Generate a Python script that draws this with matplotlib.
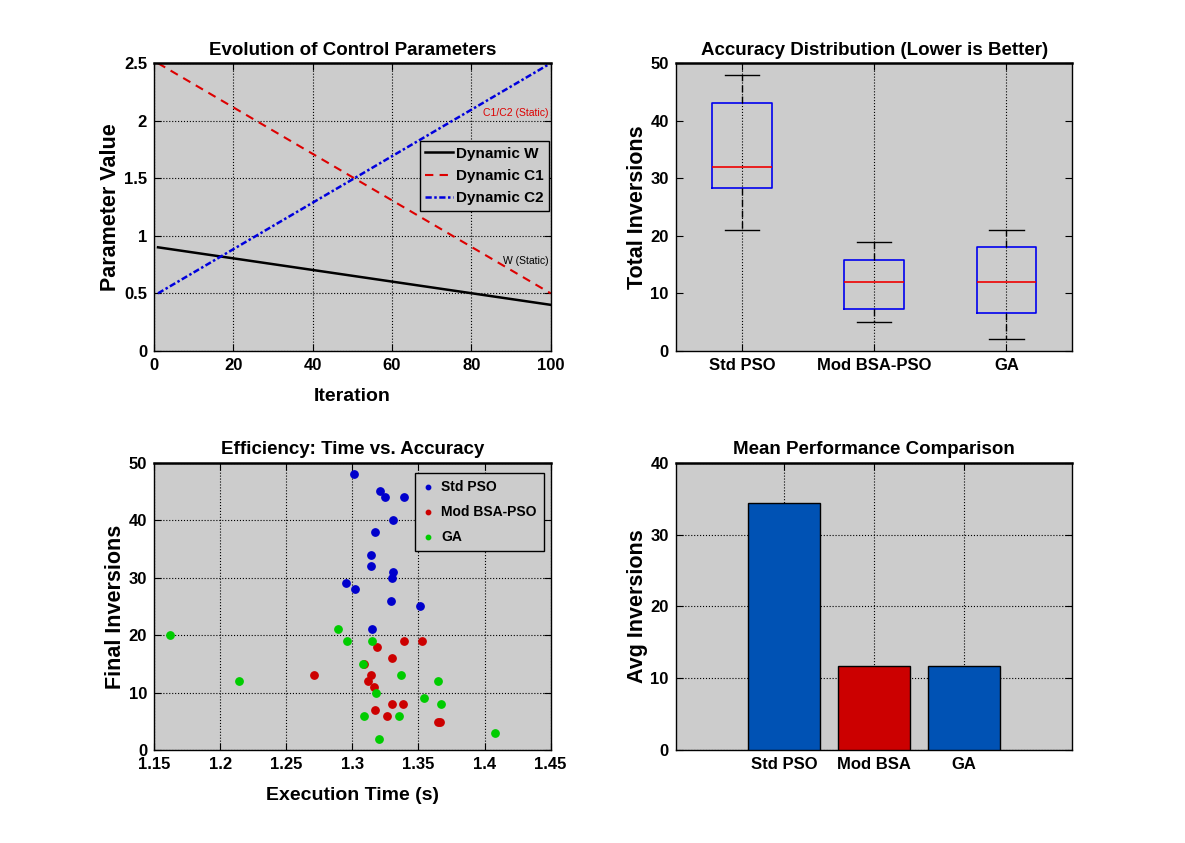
import numpy as np
import matplotlib
matplotlib.use("Agg")
from matplotlib import pyplot as plt
from matplotlib.ticker import FuncFormatter

NARROW = ["Liberation Sans Narrow", "Liberation Sans", "DejaVu Sans"]
WIDE = ["Liberation Sans", "DejaVu Sans"]
plt.rcParams['font.family'] = NARROW
plt.rcParams['font.weight'] = 'bold'

AXES_BG = "#cccccc"

# control parameter schedule
iterations = np.arange(1, 101)
W_START, W_END = 0.9, 0.4
C1_START, C1_END = 2.5, 0.5
C2_START, C2_END = 0.5, 2.5

# per-run results (15 runs each)
methods = ["Std PSO", "Mod BSA-PSO", "GA"]
bar_labels = ["Std PSO", "Mod BSA", "GA"]

std_time = [1.301, 1.321, 1.325, 1.339, 1.331, 1.317, 1.314, 1.314,
            1.331, 1.330, 1.295, 1.302, 1.329, 1.351, 1.315]
std_inv = [48, 45, 44, 44, 40, 38, 34, 32, 31, 30, 29, 28, 26, 25, 21]

mod_time = [1.339, 1.353, 1.319, 1.330, 1.309, 1.271, 1.314, 1.312,
            1.316, 1.330, 1.338, 1.317, 1.326, 1.366, 1.365]
mod_inv = [19, 19, 18, 16, 15, 13, 13, 12, 11, 8, 8, 7, 6, 5, 5]

ga_time = [1.162, 1.289, 1.296, 1.315, 1.308, 1.337, 1.214, 1.365,
           1.318, 1.354, 1.367, 1.309, 1.335, 1.408, 1.320]
ga_inv = [20, 21, 19, 19, 15, 13, 12, 12, 10, 9, 8, 6, 6, 3, 2]


def styleAxes(ax):
    ax.set_facecolor(AXES_BG)
    ax.tick_params(direction='in', top=True, right=True, labelsize=12, length=5, pad=5)
    for sp in ax.spines.values():
        sp.set_linewidth(1.0)
    ax.spines['top'].set_linewidth(1.8)


def setLabels(ax, title, ylabel, xlabel=None):
    ax.set_title(title, fontsize=13.5, fontweight='bold', pad=6)
    ax.set_ylabel(ylabel, fontsize=15.5, fontweight='bold', family=WIDE, labelpad=2)
    if xlabel:
        ax.set_xlabel(xlabel, fontsize=14, fontweight='bold', labelpad=11)


def boxStats(values):
    v = np.array(values, dtype=float)
    q1, med, q3 = np.percentile(v, [25, 50, 75], method='hazen')
    iqr = q3 - q1
    lo = v[v >= q1 - 1.5 * iqr].min()
    hi = v[v <= q3 + 1.5 * iqr].max()
    return dict(med=med, q1=q1, q3=q3, whislo=lo, whishi=hi, fliers=[])


fig = plt.figure(figsize=(11.85, 8.43), dpi=100)
ax1 = fig.add_axes([0.130, 0.5838, 0.3347, 0.3412])
ax2 = fig.add_axes([0.5703, 0.5838, 0.3347, 0.3412])
ax3 = fig.add_axes([0.130, 0.1100, 0.3347, 0.3412])
ax4 = fig.add_axes([0.5703, 0.1100, 0.3347, 0.3412])

# 1. control parameters
w = np.linspace(W_START, W_END, len(iterations))
c1 = np.linspace(C1_START, C1_END, len(iterations))
c2 = np.linspace(C2_START, C2_END, len(iterations))
styleAxes(ax1)
ax1.plot(iterations, w, color='black', lw=1.8, label='Dynamic W')
ax1.plot(iterations, c1, color='#dd0000', lw=1.5, ls=(0, (4, 3)), label='Dynamic C1')
ax1.plot(iterations, c2, color='#0000dd', lw=1.8, ls=(0, (2.5, 1, 1, 1)), label='Dynamic C2')
ax1.text(99.5, 2.07, 'C1/C2 (Static)', color='#dd0000', fontsize=7.5, ha='right', va='center',
         fontweight='normal')
ax1.text(99.5, 0.78, 'W (Static)', color='black', fontsize=7.5, ha='right', va='center',
         fontweight='normal')
ax1.set_xlim(0, 100)
ax1.set_ylim(0, 2.5)
ax1.set_xticks(np.arange(0, 101, 20))
ax1.set_yticks(np.arange(0, 2.51, 0.5))
ax1.yaxis.set_major_formatter(FuncFormatter(lambda v, p: '%g' % v))
ax1.grid(True, ls=':', color='black', lw=0.8)
setLabels(ax1, 'Evolution of Control Parameters', 'Parameter Value', 'Iteration')
leg = ax1.legend(loc='upper right', bbox_to_anchor=(0.995, 0.729), fontsize=11,
                 fancybox=False, framealpha=1, facecolor=AXES_BG, edgecolor='black',
                 handlelength=1.8, borderpad=0.35, labelspacing=0.55, handletextpad=0.2,
                 borderaxespad=0)
leg.get_frame().set_linewidth(1.0)

# 2. accuracy distribution
styleAxes(ax2)
stats = [boxStats(v) for v in (std_inv, mod_inv, ga_inv)]
ax2.bxp(stats, positions=[1, 2, 3], widths=0.45, showfliers=False,
        boxprops=dict(color='#0000ee', lw=1.2),
        medianprops=dict(color='#ee0000', lw=1.2),
        whiskerprops=dict(color='black', lw=1.0, ls=(0, (5, 3))),
        capprops=dict(color='black', lw=1.0), capwidths=0.26)
ax2.set_xlim(0.5, 3.5)
ax2.set_ylim(0, 50)
ax2.set_xticks([1, 2, 3])
ax2.set_xticklabels(methods)
ax2.set_yticks(np.arange(0, 51, 10))
ax2.xaxis.grid(True, ls=':', color='black', lw=0.8)
ax2.set_axisbelow(True)
setLabels(ax2, 'Accuracy Distribution (Lower is Better)', 'Total Inversions')

# 3. time vs accuracy
styleAxes(ax3)
ax3.scatter(std_time, std_inv, s=28, color='#0000cc', label='Std PSO', zorder=3)
ax3.scatter(mod_time, mod_inv, s=28, color='#cc0000', label='Mod BSA-PSO', zorder=3)
ax3.scatter(ga_time, ga_inv, s=28, color='#00cc00', label='GA', zorder=3)
ax3.set_xlim(1.15, 1.45)
ax3.set_ylim(0, 50)
ax3.set_xticks(np.arange(1.15, 1.451, 0.05))
ax3.xaxis.set_major_formatter(FuncFormatter(lambda v, p: '%g' % round(v, 2)))
ax3.set_yticks(np.arange(0, 51, 10))
ax3.grid(True, ls=':', color='black', lw=0.8)
ax3.set_axisbelow(True)
setLabels(ax3, 'Efficiency: Time vs. Accuracy', 'Final Inversions', 'Execution Time (s)')
leg3 = ax3.legend(loc='upper right', bbox_to_anchor=(0.982, 0.965), fontsize=10,
                  fancybox=False, framealpha=1, facecolor=AXES_BG, edgecolor='black',
                  scatterpoints=1, markerscale=0.6, borderpad=0.5, labelspacing=0.8,
                  handlelength=0.9, handletextpad=0.5, borderaxespad=0)
leg3.get_frame().set_linewidth(1.0)

# 4. mean performance
styleAxes(ax4)
means = [np.mean(std_inv), np.mean(mod_inv), np.mean(ga_inv)]
ax4.bar([1, 2, 3], means, width=0.8, color=['#0052b4', '#cc0000', '#0052b4'],
        edgecolor='black', lw=1.0, zorder=3)
ax4.set_xlim(-0.2, 4.2)
ax4.set_ylim(0, 40)
ax4.set_xticks([1, 2, 3])
ax4.set_xticklabels(bar_labels)
ax4.set_yticks(np.arange(0, 41, 10))
ax4.grid(True, ls=':', color='black', lw=0.8)
ax4.set_axisbelow(True)
setLabels(ax4, 'Mean Performance Comparison', 'Avg Inversions')

fig.savefig('out.png', dpi=100, facecolor='white')
